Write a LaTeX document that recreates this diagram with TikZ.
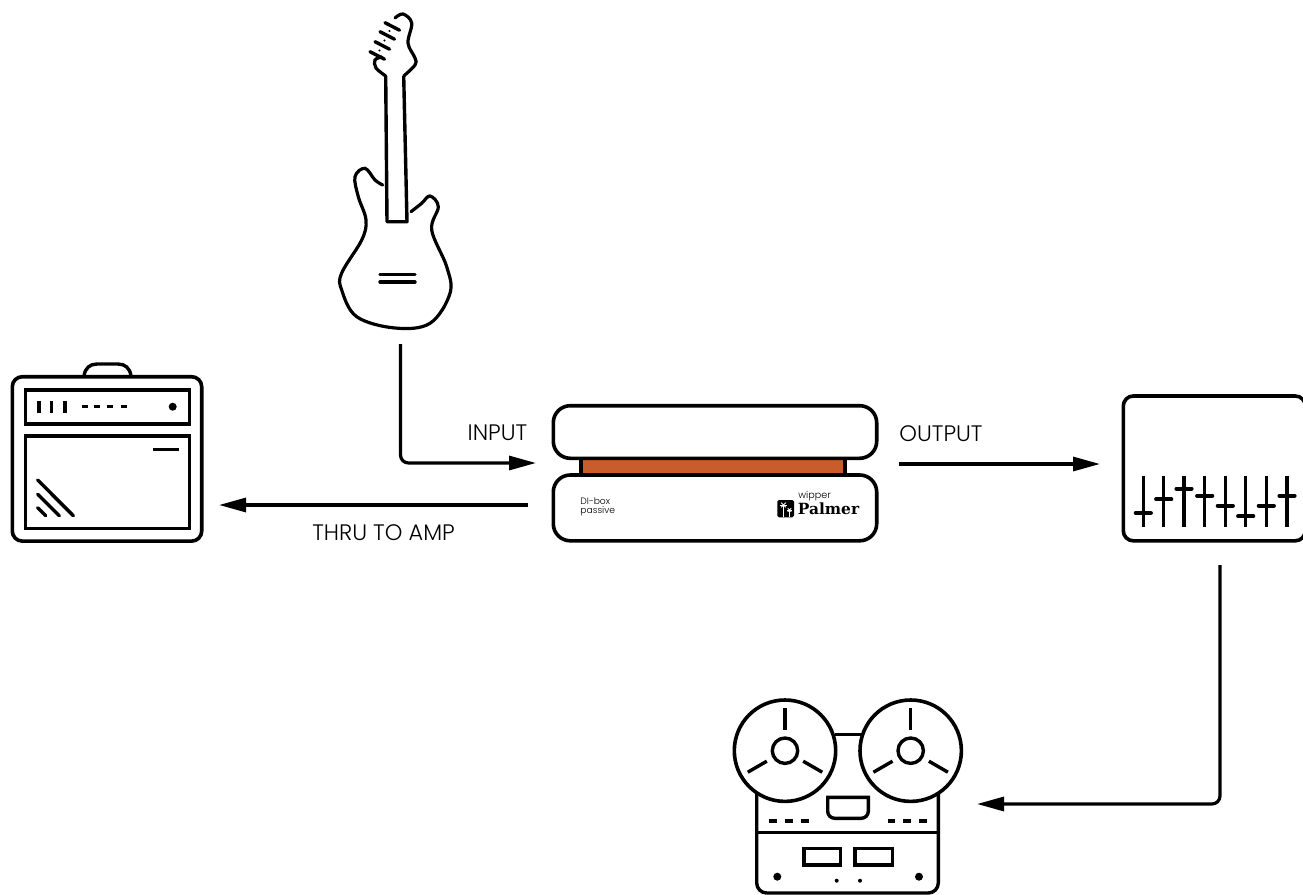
\documentclass[tikz,border=0pt]{standalone}
\usepackage{fontspec}
\setmainfont{Poppins}[UprightFont=* Light]
\newfontfamily\slabfont{DejaVu Serif}[UprightFont=* Bold]
\usepackage{xcolor}
\usetikzlibrary{arrows.meta,calc}
\definecolor{dicore}{HTML}{C85C2C}
\tikzset{
  dev/.style   = {rectangle, rounded corners=5pt, draw=black, line width=1.8pt, fill=white, inner sep=0pt},
  ln/.style    = {line width=1.7pt, black},
  lnr/.style   = {line width=1.7pt, black, line cap=round},
  thk/.style   = {line width=2.1pt, black},
  fl/.style    = {-{Stealth[length=13.5pt,width=7pt,inset=0pt]}, line width=1.6pt, black, rounded corners=4pt},
  lbl/.style   = {font=\fontsize{11.2}{13}\selectfont, inner sep=0pt, anchor=center},
  tiny/.style  = {font=\fontsize{4.6}{5.5}\selectfont, inner sep=0pt, anchor=west},
}

\begin{document}
\begin{tikzpicture}[x=0.5pt,y=-0.5pt]
  \useasboundingbox (0,0) rectangle (1303,895);
  \clip (0,0) rectangle (1303,895);

  % guitar
  \draw[lnr,line width=1.6pt] plot[smooth,tension=0.6] coordinates {(382.7,185) (375,180) (365,168.3) (355,176.7) (358.3,196.7) (366,220) (361.7,240) (341.7,273) (341.7,290) (356.7,316.7) (395,328) (430,323.3) (450,293.3) (446.7,266.7) (431.7,230) (438.3,206.7) (430,196) (421.7,203.3) (411,211.7)};
  \draw[ln,line join=round] (385.7,76) -- (387,221.7) -- (407,221.7) -- (403.7,76);
  \draw[lnr,line width=1.6pt] plot[smooth,tension=0.6] coordinates {(385.7,76) (376,68) (375,60) (381.7,57)};
  \draw[lnr,line width=1.6pt] plot[smooth,tension=0.6] coordinates {(403.7,76) (415,65) (415,58) (408,43) (411.7,23) (403,14) (395,18)};
  \foreach \hx/\hy in {370/51.7,375/41.7,380/31.7,385/22.7}
    \draw[lnr] (\hx,\hy) -- ++(14.5,7.5);
  \foreach \dx/\dy in {379.5/50.5,384.5/40.5,389.5/31}
    \fill (\dx,\dy) circle (0.6pt);
  \draw[lnr] (380,274.7) -- (415,274.7);
  \draw[lnr] (380,282) -- (415,282);

  % amp
  \draw[ln] (84,376) .. controls (85,368) and (90,364) .. (97,364) -- (118,364) .. controls (125,364) and (130,368) .. (131,376);
  \node[dev,minimum width=94.7pt,minimum height=82.2pt] (amp) at (107,458.9) {};
  \draw[ln] (25.7,390) rectangle (189.3,424);
  \draw[ln] (25.7,436) rectangle (189.3,528.3);
  \foreach \bx in {39,51.7,65}
    \draw[ln] (\bx,400.7) -- (\bx,413.3);
  \foreach \bx in {81.7,94.3,107.3,120.7}
    \draw[ln] (\bx,406.7) -- ++(6,0);
  \fill (172.7,406.7) circle (2pt);
  \draw[ln] (153.3,449.3) -- (179,449.3);
  \draw[lnr] (37.7,480) -- (73.3,515.7);
  \draw[lnr] (37.7,494.3) -- (59.3,515.7);
  \draw[lnr] (37.7,507.7) -- (45.7,515.7);

  % di box
  \draw[ln,fill=dicore] (581,456) rectangle (845,476);
  \node[dev,rounded corners=8.5pt,minimum width=161.7pt,minimum height=26.3pt] (ditop) at (715,432) {};
  \node[dev,rounded corners=8.5pt,minimum width=161.7pt,minimum height=32.9pt] (dibase) at (715,507.9) {};
  \node[tiny] (diname) at (580,501) {DI-box};
  \node[tiny] (ditype) at (580,511) {passive};
  \node[tiny,font=\fontsize{4.8}{6}\selectfont] (brandtop) at (798,496) {wipper};
  \node[tiny,font=\slabfont\fontsize{7.7}{9}\selectfont] (brand) at (797.5,509) {Palmer};
  \fill[rounded corners=0.8pt] (777.3,500) rectangle (794,517.3);
  \foreach \px/\py/\pr in {783.5/505/3.2,789.5/510/2.4} {
    \draw[white,line width=0.5pt] (\px,\py) -- (\px,517.3);
    \foreach \pa in {0,45,135,180,225,315}
      \draw[white,line width=0.45pt] (\px,\py) -- ++(\pa:\pr);
  }

  % mixer
  \node[dev,minimum width=91pt,minimum height=72.4pt] (mixer) at (1214.3,468.4) {};
  \foreach \fx/\fy in {1143.3/513,1163.7/499.3,1184/488.7,1204.7/495.7,1225.3/505.7,1245.7/516.3,1266.3/505.7,1287/495.7} {
    \draw[ln] (\fx,475.7) -- (\fx,526.7);
    \draw[thk,line cap=round] (\fx-7.5,\fy) -- (\fx+7.5,\fy);
  }

  % tape machine
  \draw[ln,rounded corners=5pt] (756.7,790) -- (756.7,893) -- (938.3,893) -- (938.3,790);
  \node[dev,circle,minimum size=50.7pt] (reell) at (785,750.7) {};
  \node[dev,circle,minimum size=50.7pt] (reelr) at (910.7,750.7) {};
  \draw[ln] ($(reell)+(50,-16)$) -- ($(reelr)+(-50,-16)$);
  \foreach \reel in {reell,reelr} {
    \draw[ln] (\reel) circle (12.7);
    \foreach \ang in {90,210,330}
      \draw[ln] ($(\reel)+(\ang:21 and -21)$) -- ($(\reel)+(\ang:43 and -43)$);
  }
  \draw[ln] (827.7,797.3) -- (868.3,797.3) [rounded corners=3.5pt] -- (868.3,818.3) -- (827.7,818.3) [sharp corners] -- cycle;
  \foreach \tx in {769.3,785,801,887.7,903.3,919}
    \draw[ln] (\tx,821) -- ++(7.5,0);
  \draw[ln] (756.7,832.7) -- (938.3,832.7);
  \draw[ln] (804,848.3) rectangle (840.7,865);
  \draw[ln] (855,848.3) rectangle (892.3,865);
  \fill (777.3,876.7) circle (2pt);
  \fill (919,876.7) circle (2pt);
  \fill (836.7,880.7) circle (1pt);
  \fill (860,880.7) circle (1pt);

  % connectors
  \coordinate (guitarout) at (400.5,344);
  \coordinate (diin) at (536,463);
  \coordinate (diout) at (899,464);
  \coordinate (mixin) at (1100,464);
  \coordinate (dithru) at (528,505);
  \coordinate (ampin) at (219,505);
  \coordinate (mixout) at (1220,565);
  \coordinate (tapein) at (977,804);
  \draw[fl] (guitarout) |- (diin);
  \draw[fl] (diout) -- (mixin);
  \draw[fl] (dithru) -- (ampin);
  \draw[fl] (mixout) |- (tapein);

  \node[lbl] (inlbl) at (497.5,433) {INPUT};
  \node[lbl] (outlbl) at (941,434) {OUTPUT};
  \node[lbl] (thrulbl) at (383.5,533) {THRU TO AMP};
\end{tikzpicture}
\end{document}
